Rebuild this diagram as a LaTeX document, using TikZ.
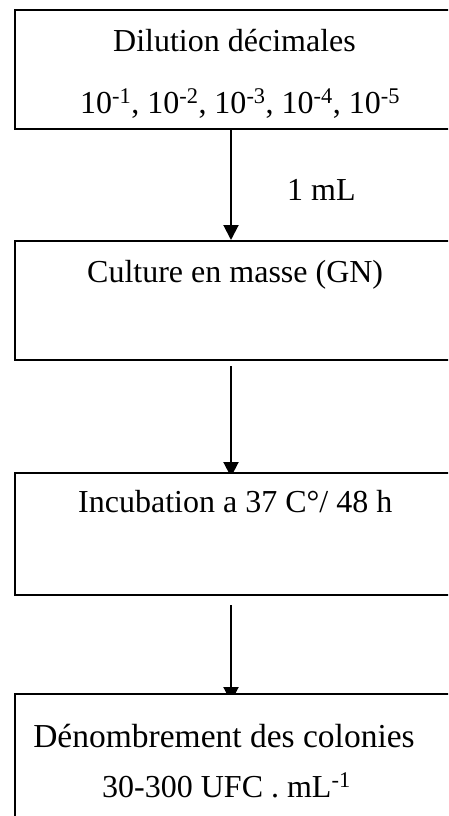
\documentclass[tikz,border=0pt]{standalone}
\usepackage{fontspec}
\setmainfont{Liberation Serif}
\usetikzlibrary{arrows.meta,backgrounds}
\tikzset{
  box/.style={draw=black, line width=2pt, fill=white, rectangle, inner sep=0pt, anchor=north west, minimum width=446pt},
  lbl/.style={inner sep=0pt, anchor=base west, font=\fontsize{32}{38}\selectfont},
  arr/.style={line width=2pt, -{Triangle[width=15pt,length=15pt]}}
}
\begin{document}
\begin{tikzpicture}[x=1pt,y=-1pt]
\useasboundingbox (0,0) rectangle (448,816);
\clip (0,0) rectangle (448,816);
\node[box, minimum height=119pt] (b1) at (14,9) {};
\node[box, minimum height=119pt] (b2) at (14,240) {};
\node[box, minimum height=122pt] (b3) at (14,472) {};
\node[box, minimum height=150pt] (b4) at (14,693) {};
\coordinate (ax) at (231,0);
\begin{scope}[on background layer]
\draw[arr] (b1.south -| ax) -- (b2.north -| ax);
\draw[arr] ([yshift=-5pt]b2.south -| ax) -- ([yshift=-5pt]b3.north -| ax);
\draw[arr] ([yshift=-9pt]b3.south -| ax) -- ([yshift=-9pt]b4.north -| ax);
\end{scope}
\node[lbl] (t1) at (113,52) {Dilution décimales};
\node[lbl] (t2) at (80,113) {10\textsuperscript{-1}, 10\textsuperscript{-2}, 10\textsuperscript{-3}, 10\textsuperscript{-4}, 10\textsuperscript{-5}};
\node[lbl] (t3) at (287,200) {1 mL};
\node[lbl] (t4) at (87,282) {Culture en masse (GN)};
\node[lbl] (t5) at (78,512) {Incubation a 37 C°/ 48 h};
\node[lbl, anchor=base, font=\fontsize{33.5}{40}\selectfont] (t6) at (224,747) {Dénombrement des colonies};
\node[lbl] (t7) at (102,797) {30-300 UFC . mL\textsuperscript{-1}};
\end{tikzpicture}
\end{document}
